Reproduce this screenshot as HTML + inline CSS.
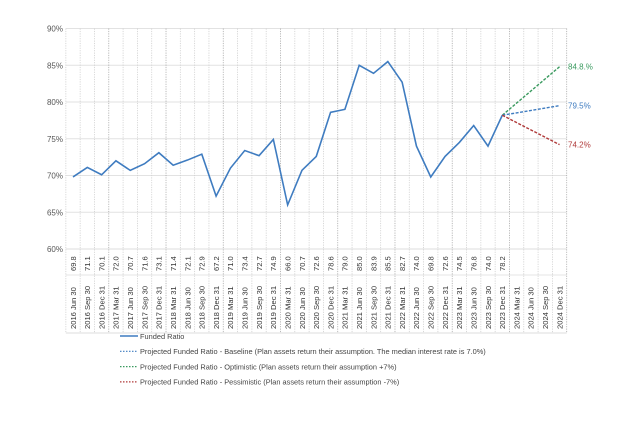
<!DOCTYPE html>
<html><head><meta charset="utf-8"><style>
body{margin:0;background:#fff;width:640px;height:416px;overflow:hidden;font-family:"Liberation Sans",sans-serif}
</style></head><body>
<svg id="s" width="640" height="416" xmlns="http://www.w3.org/2000/svg" font-family="Liberation Sans, sans-serif"></svg>
<script>
const vals=[69.8,71.1,70.1,72.0,70.7,71.6,73.1,71.4,72.1,72.9,67.2,71.0,73.4,72.7,74.9,66.0,70.7,72.6,78.6,79.0,85.0,83.9,85.5,82.7,74.0,69.8,72.6,74.5,76.8,74.0,78.2];
const mons=["Jun 30","Sep 30","Dec 31","Mar 31"];
const L=65.85,W=14.31,N=35;
const X=i=>L+W*(i+0.5);
const Y=v=>28.5+(90-v)*7.35;
let h='';
for(let p=60;p<=90;p+=5){const y=Y(p);h+=`<line x1="${L}" x2="${L+W*N}" y1="${y}" y2="${y}" stroke="#e2e2e2" stroke-width="1"/><text x="63" y="${y+3}" font-size="8" fill="#555" text-anchor="end">${p}%</text>`;}
for(let i=0;i<=N;i++){const x=L+W*i;h+=`<line x1="${x}" x2="${x}" y1="28.5" y2="333" stroke="${i%4==3?'#aaa':'#cfcfcf'}" stroke-width="0.8" stroke-dasharray="1.2,1.2"/>`;}
h+=`<line x1="${L}" x2="${L+W*N}" y1="249" y2="249" stroke="#ddd"/><line x1="${L}" x2="${L+W*N}" y1="275" y2="275" stroke="#e5e5e5"/><line x1="${L}" x2="${L+W*N}" y1="333" y2="333" stroke="#ddd"/>`;
for(let i=0;i<N;i++){const x=X(i)+2.8;
 const yr=2016+Math.floor((i+1)/4);const m=mons[i%4];
 if(i<vals.length)h+=`<text transform="translate(${x},271) rotate(-90)" font-size="7.6" fill="#333">${vals[i].toFixed(1)}</text>`;
 h+=`<text transform="translate(${x},329) rotate(-90)" font-size="7.6" fill="#333">${yr} ${m}</text>`;}
h+=`<polyline fill="none" stroke="#3f7cc0" stroke-width="1.6" points="${vals.map((v,i)=>X(i)+','+Y(v)).join(' ')}"/>`;
const x0=X(30),y0=Y(78.2),x1=X(34);
[[84.8,'#3a9a5f','84.8.%'],[79.5,'#3f7cc0','79.5%'],[74.2,'#b03a3a','74.2%']].forEach(([v,c,t])=>{
 h+=`<line x1="${x0}" y1="${y0}" x2="${x1}" y2="${Y(v)}" stroke="${c}" stroke-width="1.4" stroke-dasharray="3,1.5"/><text x="568" y="${Y(v)+3}" font-size="8" fill="${c}">${t}</text>`;});
const lg=[['#3f7cc0','Funded Ratio',0],['#3f7cc0','Projected Funded Ratio - Baseline (Plan assets return their assumption. The median interest rate is 7.0%)',1],['#3a9a5f','Projected Funded Ratio - Optimistic (Plan assets return their assumption +7%)',1],['#b03a3a','Projected Funded Ratio - Pessimistic (Plan assets return their assumption -7%)',1]];
lg.forEach(([c,t,d],k)=>{const y=336+k*15.3;
 h+=`<line x1="120" x2="138" y1="${y}" y2="${y}" stroke="${c}" stroke-width="${d?1.2:1.6}" ${d?'stroke-dasharray="1.5,1.5"':''}/><text x="140" y="${y+2.8}" font-size="7.4" fill="#444">${t}</text>`;});
document.getElementById('s').innerHTML=h;
</script>
</body></html>
